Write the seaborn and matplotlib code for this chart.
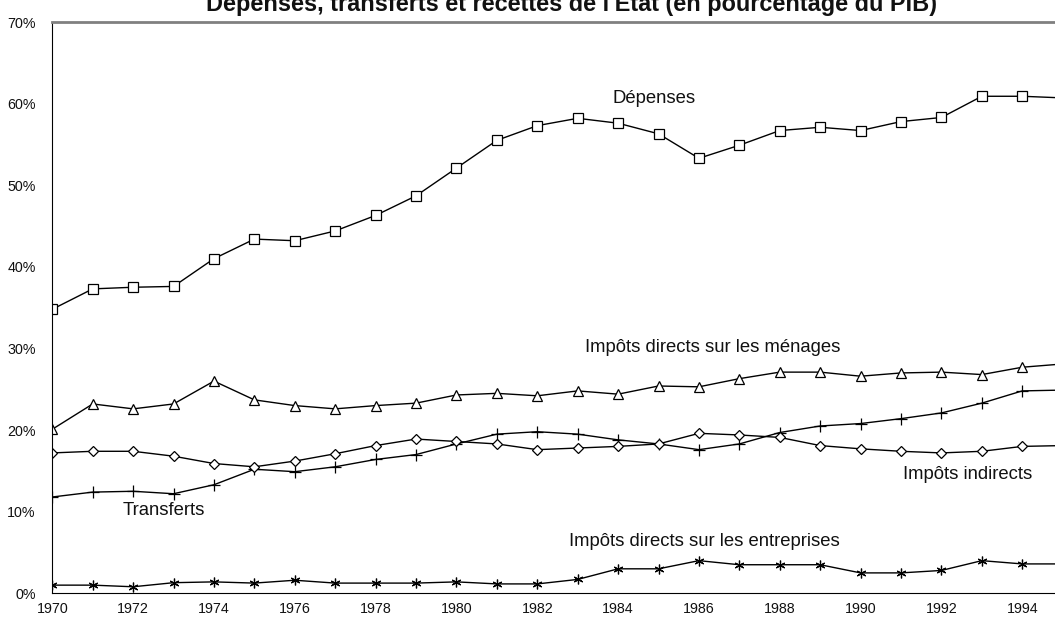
import numpy as np
import pandas as pd
import seaborn as sns
import matplotlib.pyplot as plt
from matplotlib.ticker import MultipleLocator, FuncFormatter

YEARS = list(range(1970, 1996))

DEPENSES = [34.8, 37.3, 37.5, 37.6, 41.0, 43.4, 43.2, 44.4, 46.3, 48.7, 52.1, 55.5, 57.3,
            58.2, 57.6, 56.3, 53.3, 54.9, 56.7, 57.1, 56.7, 57.8, 58.3, 60.9, 60.9, 60.7]
MENAGES = [20.1, 23.2, 22.6, 23.2, 26.0, 23.7, 23.0, 22.6, 23.0, 23.3, 24.3, 24.5, 24.2,
           24.8, 24.4, 25.4, 25.3, 26.3, 27.1, 27.1, 26.6, 27.0, 27.1, 26.8, 27.7, 28.1]
TRANSFERTS = [11.8, 12.4, 12.5, 12.2, 13.3, 15.2, 14.9, 15.5, 16.4, 17.0, 18.3, 19.5, 19.8,
              19.5, 18.8, 18.3, 17.6, 18.3, 19.7, 20.5, 20.8, 21.4, 22.1, 23.3, 24.8, 24.9]
INDIRECTS = [17.2, 17.4, 17.4, 16.8, 15.9, 15.5, 16.2, 17.1, 18.1, 18.9, 18.6, 18.3, 17.6,
             17.8, 18.0, 18.3, 19.6, 19.4, 19.1, 18.1, 17.7, 17.4, 17.2, 17.4, 18.0, 18.1]
ENTREPRISES = [1.0, 1.0, 0.8, 1.3, 1.4, 1.25, 1.6, 1.25, 1.25, 1.25, 1.4, 1.15, 1.15,
               1.7, 3.0, 3.0, 4.0, 3.5, 3.5, 3.5, 2.5, 2.5, 2.8, 4.0, 3.6, 3.6]

TITLE = "Dépenses, transferts et recettes de l'Etat (en pourcentage du PIB)"

# series name, values, marker, marker size, label position (year, %)
SERIES = [
    ("Dépenses", DEPENSES, "s", 7, (1983.87, 60.6)),
    ("Impôts directs sur les ménages", MENAGES, "^", 7, (1983.18, 30.1)),
    ("Transferts", TRANSFERTS, "+", 8, (1971.73, 10.2)),
    ("Impôts indirects", INDIRECTS, "D", 5, (1991.04, 14.5)),
    ("Impôts directs sur les entreprises", ENTREPRISES, (6, 2, 0), 7, (1982.78, 6.3)),
]


def build_frame() -> pd.DataFrame:
    rows = []
    for name, values, *_ in SERIES:
        for year, v in zip(YEARS, values):
            rows.append({"Année": year, "Valeur": v, "Série": name})
    return pd.DataFrame(rows)


def main():
    sns.set_style("white")
    plt.rcParams["font.family"] = ["Liberation Sans", "DejaVu Sans"]

    df = build_frame()
    fig = plt.figure(figsize=(10.55, 6.21), dpi=100)
    ax = fig.add_axes([52.3 / 1055, 1 - 593.3 / 621, 1 - 52.3 / 1055, (593.3 - 22) / 621])

    for name, _, marker, size, (lx, ly) in SERIES:
        sub = df[df["Série"] == name]
        sns.lineplot(data=sub, x="Année", y="Valeur", ax=ax, color="black", linewidth=1,
                     marker=marker, markersize=size, markerfacecolor="white",
                     markeredgecolor="black", markeredgewidth=0.9, legend=False)
        ax.text(lx, ly, name, fontsize=13.3, va="center", ha="left", color="#111111")

    ax.set_xlim(1970, 1994.81)
    ax.set_ylim(0, 70)
    ax.xaxis.set_major_locator(MultipleLocator(2))
    ax.xaxis.set_minor_locator(MultipleLocator(1))
    ax.yaxis.set_major_locator(MultipleLocator(10))
    ax.yaxis.set_major_formatter(FuncFormatter(lambda v, _: f"{v:.0f}%"))
    ax.tick_params(axis="both", which="both", direction="inout", length=8, width=1,
                   color="black", labelsize=10.3, labelcolor="#111111")
    ax.tick_params(axis="x", pad=2)
    ax.tick_params(axis="y", pad=8)
    ax.set_xlabel("")
    ax.set_ylabel("")

    ax.spines["right"].set_visible(False)
    ax.spines["top"].set_color("#808080")
    ax.spines["top"].set_linewidth(2)
    ax.spines["left"].set_color("black")
    ax.spines["bottom"].set_color("black")

    fig.text(571 / 1055, 1 - 11 / 621, TITLE, ha="center", va="baseline",
             fontsize=16.9, fontweight="bold", color="#111111")

    fig.savefig("out.png", dpi=100)
    plt.close(fig)


if __name__ == "__main__":
    main()
